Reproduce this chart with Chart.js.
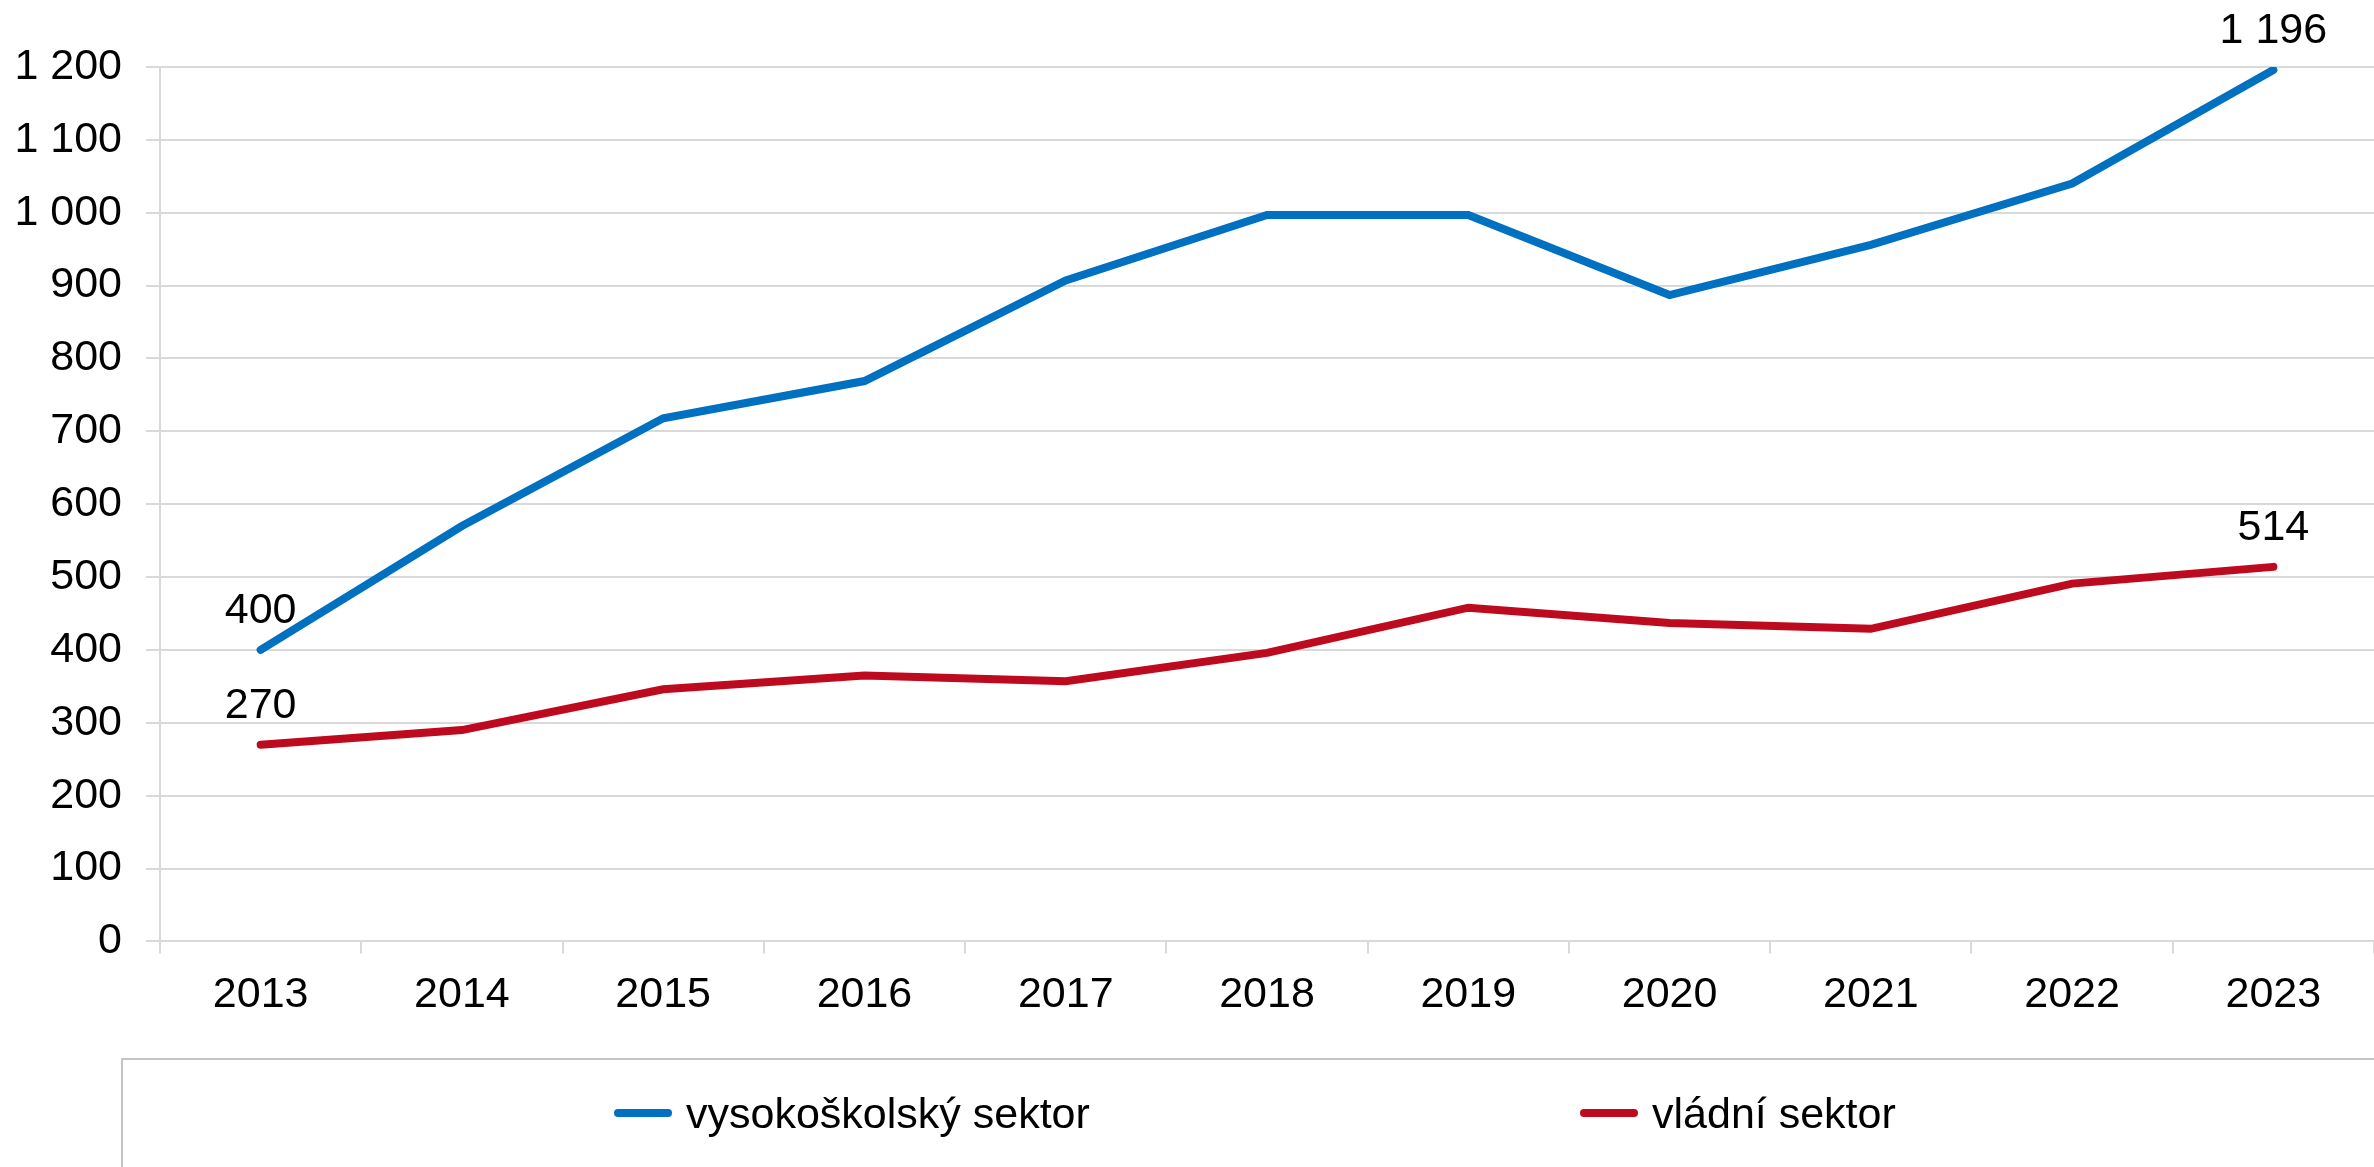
<!DOCTYPE html>
<html lang="cs">

<head>
  <meta charset="utf-8">
  <title>Vysokoškolský a vládní sektor</title>
  <script src="https://cdn.jsdelivr.net/npm/chart.js"></script>
  <style>
    body {
      margin: 0;
      background: #fff;
      font-family: "Liberation Sans", Arial, sans-serif;
    }

    #wrap {
      position: relative;
      width: 2374px;
      height: 1167px;
      overflow: hidden;
    }

    #chart {
      position: absolute;
      left: 0;
      top: 0;
    }

    #legenda {
      position: absolute;
      left: 121px;
      top: 1058px;
      width: 2400px;
      height: 200px;
      border: 2px solid #c4c4c4;
      box-sizing: border-box;
    }

    #legenda ul {
      list-style: none;
      margin: 0;
      padding: 32px 0 0 491px;
      display: flex;
    }

    #legenda li {
      display: flex;
      align-items: center;
      font-size: 43px;
      line-height: 42px;
      color: #000;
    }

    #legenda li:first-child {
      width: 966px;
    }

    #legenda .car {
      display: inline-block;
      width: 58px;
      height: 8px;
      border-radius: 4px;
      margin-right: 14px;
    }
  </style>
</head>

<body>
  <div id="wrap">
    <canvas id="chart" width="2374" height="1167"></canvas>
    <div id="legenda"><ul id="legendaList"></ul></div>
  </div>

  <script>
    // data
    const roky = ['2013', '2014', '2015', '2016', '2017', '2018', '2019', '2020', '2021', '2022', '2023'];
    const vysokoskolsky = [400, 570, 718, 769, 907, 997, 997, 887, 956, 1040, 1196];
    const vladni = [270, 290, 346, 365, 357, 396, 458, 437, 429, 491, 514];
    const nazvy = ['vysokoškolský sektor', 'vládní sektor'];
    const barvy = ['#0070C0', '#BE0A1E'];

    const pismo = { family: '"Liberation Sans", Arial, sans-serif', size: 43 };
    const sediva = '#d9d9d9';

    function formatCislo(v) {
      return String(v).replace(/\B(?=(\d{3})+(?!\d))/g, ' ');
    }

    // popisky u první a poslední hodnoty každé řady
    const popiskyPlugin = {
      id: 'popisky',
      afterDatasetsDraw(chart) {
        const ctx = chart.ctx;
        ctx.save();
        ctx.font = pismo.size + 'px ' + pismo.family;
        ctx.fillStyle = '#000';
        ctx.textAlign = 'center';
        ctx.textBaseline = 'alphabetic';
        chart.data.datasets.forEach((ds, i) => {
          const body = chart.getDatasetMeta(i).data;
          [0, body.length - 1].forEach(j => {
            const p = body[j];
            ctx.fillText(formatCislo(ds.data[j]), p.x, p.y - 27);
          });
        });
        ctx.restore();
      }
    };

    const ctx = document.getElementById('chart').getContext('2d');
    const myChart = new Chart(ctx, {
      type: 'line',
      data: {
        labels: roky,
        datasets: [
          {
            label: nazvy[0],
            data: vysokoskolsky,
            borderColor: barvy[0],
            backgroundColor: barvy[0],
            borderWidth: 8,
            borderCapStyle: 'round',
            pointRadius: 0,
            tension: 0,
            fill: false
          },
          {
            label: nazvy[1],
            data: vladni,
            borderColor: barvy[1],
            backgroundColor: barvy[1],
            borderWidth: 8,
            borderCapStyle: 'round',
            pointRadius: 0,
            tension: 0,
            fill: false
          }
        ]
      },
      options: {
        responsive: false,
        animation: false,
        layout: {
          padding: { left: 15, top: 67, right: 0, bottom: 130 }
        },
        plugins: {
          legend: { display: false },
          tooltip: { enabled: false }
        },
        scales: {
          x: {
            offset: true,
            grid: {
              offset: true,
              drawOnChartArea: false,
              drawTicks: true,
              tickLength: 12,
              color: sediva,
              lineWidth: 2
            },
            border: { display: true, color: sediva, width: 2 },
            ticks: {
              color: '#000',
              font: pismo,
              padding: 16,
              maxRotation: 0
            }
          },
          y: {
            min: 0,
            max: 1200,
            afterFit: function (scale) {
              scale.width = 145;
            },
            grid: {
              color: sediva,
              lineWidth: 2,
              tickLength: 14
            },
            border: { display: true, color: sediva, width: 2 },
            ticks: {
              stepSize: 100,
              color: '#000',
              font: pismo,
              padding: 24,
              callback: function (value) {
                return formatCislo(value);
              }
            }
          }
        }
      },
      plugins: [popiskyPlugin]
    });

    // legenda v HTML podle datových řad grafu
    const seznam = document.getElementById('legendaList');
    myChart.data.datasets.forEach(ds => {
      const li = document.createElement('li');
      const car = document.createElement('span');
      car.className = 'car';
      car.style.background = ds.borderColor;
      li.appendChild(car);
      li.appendChild(document.createTextNode(ds.label));
      seznam.appendChild(li);
    });
  </script>
</body>

</html>
